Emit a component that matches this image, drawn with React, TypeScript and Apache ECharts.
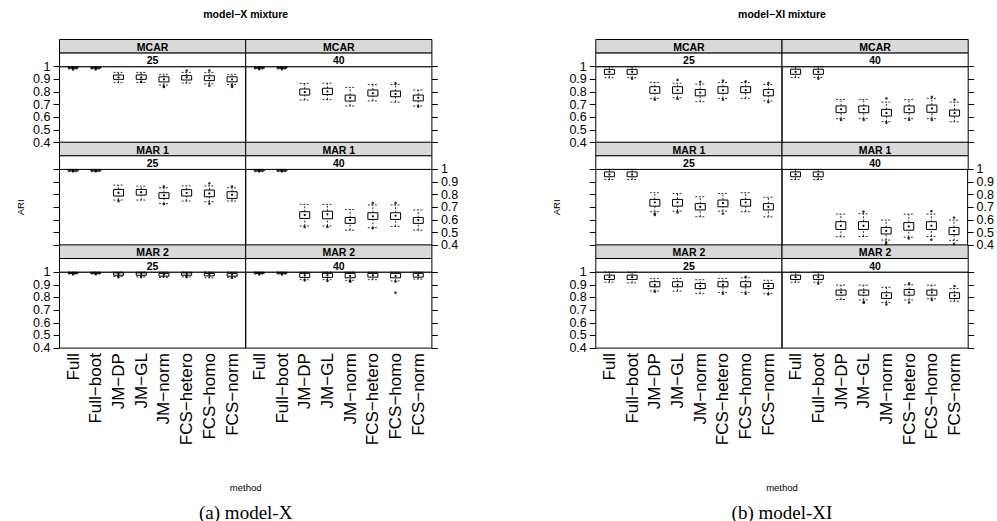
import React, { useEffect, useRef } from "react";
import * as echarts from "echarts";

const methods = ["Full", "Full−boot", "JM−DP", "JM−GL", "JM−norm", "FCS−hetero", "FCS−homo", "FCS−norm"];
const missingTypes = ["MCAR", "MAR 1", "MAR 2"];
const sampleSizes = ["25", "40"];
const figTitles = ["model−X mixture", "model−XI mixture"];
const captions = ["(a) model-X", "(b) model-XI"];
const yTicksEven = [0.4, 0.6, 0.8, 1.0];
const yTicksOdd = [0.5, 0.7, 0.9];

// box stats per method: [lower whisker, Q1, median, Q3, upper whisker]
const xMcar25 = [
  [0.982, 0.988, 0.992, 0.996, 1.0], [0.982, 0.988, 0.992, 0.996, 1.0],
  [0.874, 0.9, 0.916, 0.934, 0.955], [0.875, 0.9, 0.915, 0.935, 0.955],
  [0.855, 0.88, 0.9, 0.92, 0.94], [0.87, 0.895, 0.915, 0.93, 0.955],
  [0.865, 0.89, 0.91, 0.928, 0.955], [0.86, 0.88, 0.9, 0.92, 0.94],
];
const xMcar40 = [
  [0.982, 0.988, 0.992, 0.996, 1.0], [0.982, 0.988, 0.992, 0.996, 1.0],
  [0.737, 0.776, 0.8, 0.824, 0.868], [0.74, 0.78, 0.805, 0.83, 0.87],
  [0.69, 0.729, 0.755, 0.776, 0.837], [0.73, 0.768, 0.79, 0.816, 0.86],
  [0.72, 0.763, 0.785, 0.808, 0.86], [0.69, 0.73, 0.755, 0.776, 0.816],
];
const xMar125 = [
  [0.982, 0.988, 0.992, 0.996, 1.0], [0.982, 0.988, 0.992, 0.996, 1.0],
  [0.758, 0.79, 0.816, 0.842, 0.876], [0.758, 0.797, 0.82, 0.842, 0.868],
  [0.73, 0.771, 0.795, 0.816, 0.855], [0.75, 0.79, 0.815, 0.84, 0.87],
  [0.745, 0.784, 0.81, 0.837, 0.87], [0.75, 0.771, 0.8, 0.824, 0.855],
];
const xMar140 = [
  [0.982, 0.988, 0.992, 0.996, 1.0], [0.982, 0.988, 0.992, 0.996, 1.0],
  [0.553, 0.613, 0.64, 0.666, 0.724], [0.553, 0.61, 0.645, 0.67, 0.724],
  [0.52, 0.574, 0.6, 0.62, 0.684], [0.54, 0.605, 0.63, 0.658, 0.72],
  [0.55, 0.605, 0.635, 0.658, 0.72], [0.52, 0.574, 0.6, 0.62, 0.68],
];
const xMar225 = [
  [0.985, 0.99, 0.994, 0.997, 1.0], [0.985, 0.99, 0.994, 0.997, 1.0],
  [0.965, 0.975, 0.985, 0.994, 1.0], [0.963, 0.975, 0.985, 0.994, 1.0],
  [0.958, 0.968, 0.98, 0.99, 1.0], [0.963, 0.975, 0.985, 0.994, 1.0],
  [0.955, 0.97, 0.98, 0.99, 1.0], [0.958, 0.968, 0.98, 0.99, 1.0],
];
const xMar240 = [
  [0.985, 0.99, 0.994, 0.997, 1.0], [0.985, 0.99, 0.994, 0.997, 1.0],
  [0.94, 0.958, 0.975, 0.99, 1.0], [0.94, 0.958, 0.975, 0.99, 1.0],
  [0.935, 0.955, 0.97, 0.99, 1.0], [0.94, 0.96, 0.975, 0.99, 1.0],
  [0.93, 0.955, 0.97, 0.99, 1.0], [0.945, 0.96, 0.975, 0.99, 1.0],
];
const xiMcar25 = [
  [0.913, 0.94, 0.96, 0.979, 1.0], [0.913, 0.94, 0.96, 0.979, 1.0],
  [0.75, 0.79, 0.815, 0.842, 0.876], [0.755, 0.79, 0.815, 0.842, 0.87],
  [0.724, 0.77, 0.795, 0.82, 0.863], [0.75, 0.79, 0.815, 0.842, 0.875],
  [0.75, 0.795, 0.815, 0.842, 0.875], [0.73, 0.77, 0.795, 0.82, 0.86],
];
const xiMcar40 = [
  [0.915, 0.94, 0.96, 0.98, 1.0], [0.915, 0.94, 0.96, 0.98, 1.0],
  [0.59, 0.637, 0.665, 0.69, 0.742], [0.59, 0.637, 0.665, 0.69, 0.74],
  [0.566, 0.61, 0.635, 0.663, 0.72], [0.59, 0.637, 0.665, 0.69, 0.74],
  [0.59, 0.64, 0.67, 0.697, 0.75], [0.565, 0.61, 0.635, 0.658, 0.72],
];
const xiMar125 = [
  [0.92, 0.942, 0.96, 0.98, 1.0], [0.92, 0.942, 0.96, 0.98, 1.0],
  [0.666, 0.71, 0.74, 0.763, 0.816], [0.67, 0.71, 0.74, 0.763, 0.81],
  [0.626, 0.68, 0.705, 0.73, 0.784], [0.67, 0.705, 0.735, 0.758, 0.81],
  [0.666, 0.71, 0.74, 0.763, 0.816], [0.625, 0.68, 0.705, 0.73, 0.78],
];
const xiMar140 = [
  [0.92, 0.942, 0.96, 0.98, 1.0], [0.92, 0.942, 0.96, 0.98, 1.0],
  [0.468, 0.526, 0.555, 0.587, 0.647], [0.47, 0.526, 0.555, 0.587, 0.65],
  [0.442, 0.49, 0.515, 0.542, 0.6], [0.465, 0.52, 0.55, 0.58, 0.647],
  [0.47, 0.526, 0.555, 0.587, 0.647], [0.44, 0.485, 0.515, 0.542, 0.6],
];
const xiMar225 = [
  [0.92, 0.942, 0.96, 0.976, 1.0], [0.915, 0.942, 0.96, 0.976, 1.0],
  [0.85, 0.884, 0.9, 0.924, 0.95], [0.85, 0.884, 0.9, 0.924, 0.95],
  [0.83, 0.87, 0.89, 0.91, 0.94], [0.84, 0.884, 0.9, 0.924, 0.95],
  [0.84, 0.884, 0.9, 0.924, 0.955], [0.83, 0.87, 0.89, 0.91, 0.935],
];
const xiMar240 = [
  [0.92, 0.942, 0.96, 0.976, 1.0], [0.92, 0.942, 0.96, 0.976, 1.0],
  [0.784, 0.818, 0.84, 0.858, 0.897], [0.78, 0.818, 0.84, 0.858, 0.897],
  [0.76, 0.792, 0.815, 0.837, 0.88], [0.78, 0.818, 0.84, 0.863, 0.9],
  [0.79, 0.818, 0.84, 0.858, 0.897], [0.77, 0.792, 0.815, 0.837, 0.87],
];

// outliers: [method, value]
const xMcar25Out = [["Full", 0.978], ["Full−boot", 0.979], ["JM−GL", 0.88], ["JM−norm", 0.84], ["JM−norm", 0.845], ["FCS−hetero", 0.97], ["FCS−homo", 0.97], ["FCS−homo", 0.85], ["FCS−norm", 0.84], ["FCS−norm", 0.85]];
const xMcar40Out = [["Full", 0.98], ["Full−boot", 0.98], ["FCS−homo", 0.87], ["FCS−norm", 0.685]];
const xMar125Out = [["Full", 0.985], ["Full−boot", 0.985], ["JM−DP", 0.75], ["JM−norm", 0.865], ["JM−norm", 0.725], ["FCS−homo", 0.89], ["FCS−homo", 0.73], ["FCS−norm", 0.865]];
const xMar140Out = [["Full", 0.985], ["Full−boot", 0.985], ["JM−DP", 0.545], ["JM−GL", 0.545], ["FCS−hetero", 0.735], ["FCS−hetero", 0.535], ["FCS−homo", 0.735]];
const xMar225Out = [["Full", 0.982], ["Full−boot", 0.983], ["JM−DP", 0.96], ["JM−GL", 0.96], ["FCS−hetero", 0.96], ["FCS−norm", 0.955]];
const xMar240Out = [["Full", 0.982], ["Full−boot", 0.982], ["JM−DP", 0.935], ["JM−GL", 0.93], ["JM−norm", 0.93], ["JM−norm", 0.925], ["FCS−homo", 0.925], ["FCS−homo", 0.837]];
const xiMcar25Out = [["Full−boot", 0.905], ["JM−DP", 0.74], ["JM−GL", 0.895], ["JM−GL", 0.745], ["JM−norm", 0.88], ["FCS−hetero", 0.89], ["FCS−hetero", 0.74], ["FCS−homo", 0.885], ["FCS−norm", 0.872], ["FCS−norm", 0.72]];
const xiMcar40Out = [["Full−boot", 0.905], ["JM−DP", 0.58], ["JM−GL", 0.58], ["JM−norm", 0.75], ["JM−norm", 0.558], ["FCS−hetero", 0.58], ["FCS−homo", 0.762], ["FCS−homo", 0.58], ["FCS−norm", 0.74]];
const xiMar125Out = [["JM−DP", 0.65], ["JM−DP", 0.64], ["JM−GL", 0.66], ["FCS−hetero", 0.65]];
const xiMar140Out = [["JM−GL", 0.666], ["JM−norm", 0.425], ["JM−norm", 0.412], ["FCS−hetero", 0.455], ["FCS−homo", 0.67], ["FCS−homo", 0.445], ["FCS−norm", 0.62], ["FCS−norm", 0.412]];
const xiMar225Out = [["JM−DP", 0.845], ["FCS−hetero", 0.83], ["FCS−homo", 0.962], ["FCS−homo", 0.83], ["FCS−norm", 0.825]];
const xiMar240Out = [["Full−boot", 0.91], ["JM−GL", 0.765], ["JM−GL", 0.758], ["JM−norm", 0.745], ["FCS−hetero", 0.91], ["FCS−hetero", 0.76], ["FCS−homo", 0.78], ["FCS−norm", 0.89]];

// [figure][row][col]
const boxSets = [
  [[xMcar25, xMcar40], [xMar125, xMar140], [xMar225, xMar240]],
  [[xiMcar25, xiMcar40], [xiMar125, xiMar140], [xiMar225, xiMar240]],
];
const outSets = [
  [[xMcar25Out, xMcar40Out], [xMar125Out, xMar140Out], [xMar225Out, xMar240Out]],
  [[xiMcar25Out, xiMcar40Out], [xiMar125Out, xiMar140Out], [xiMar225Out, xiMar240Out]],
];

const FONT = "'Liberation Sans', Arial, Helvetica, sans-serif";

export default function App() {
  const ref = useRef<HTMLDivElement>(null);
  useEffect(() => {
    document.body.style.margin = "0";
    if (!ref.current) return;
    const chart = echarts.init(ref.current, null, { renderer: "svg" });

    const figX = [59.5, 595.8];
    const colW = 186.2;
    const rowTop0 = 39.5;
    const rowPitch = 102.7;
    const stripH = 13.6;
    const panelH = 76;

    const grids: any[] = [];
    const xAxes: any[] = [];
    const yAxes: any[] = [];
    const series: any[] = [];
    const graphics: any[] = [];

    let gi = 0;
    for (let f = 0; f < 2; f++) {
      for (let r = 0; r < 3; r++) {
        for (let c = 0; c < 2; c++) {
          const left = figX[f] + c * colW;
          const rowTop = rowTop0 + r * rowPitch;
          const top = rowTop + 2 * stripH;
          grids.push({
            left, top, width: colW, height: panelH,
            show: true, borderColor: "#000", borderWidth: 1, backgroundColor: "transparent",
            containLabel: false,
          });
          xAxes.push({
            gridIndex: gi, type: "value", min: 0.4, max: 8.6,
            axisLine: { show: false }, splitLine: { show: false }, axisTick: { show: false },
            axisLabel: r === 2 ? {
              show: true, customValues: [1, 2, 3, 4, 5, 6, 7, 8], rotate: 90,
              formatter: (v: number) => methods[Math.round(v) - 1] ?? "",
              fontSize: 17, color: "#000", fontFamily: FONT, margin: 5,
            } : { show: false },
          });
          const showLab = (r !== 1 && c === 0) || (r === 1 && c === 1);
          const pos = c === 0 ? "left" : "right";
          const labBase = { fontSize: 12.5, lineHeight: 12, color: "#000", fontFamily: FONT, margin: 9, hideOverlap: false };
          // main axis: ticks + even labels
          yAxes.push({
            gridIndex: gi, type: "value", min: 0.4, max: 1.0, interval: 0.1, position: pos,
            axisLine: { show: false }, splitLine: { show: false },
            axisTick: { show: true, length: 6, lineStyle: { color: "#000", width: 1 } },
            axisLabel: { ...labBase, show: showLab, customValues: yTicksEven, showMinLabel: true, showMaxLabel: true },
          });
          // companion axis: odd labels only
          yAxes.push({
            gridIndex: gi, type: "value", min: 0.4, max: 1.0, position: pos, offset: 0,
            axisLine: { show: false }, splitLine: { show: false }, axisTick: { show: false },
            axisLabel: { ...labBase, show: showLab, customValues: yTicksOdd },
          });
          const yIdx = gi * 2;
          const boxes = boxSets[f][r][c];
          series.push({
            type: "custom", xAxisIndex: gi, yAxisIndex: yIdx,
            data: boxes.map((b, i) => [i + 1, ...b]),
            encode: { x: 0, y: [1, 2, 3, 4, 5] },
            renderItem: (_p: any, api: any) => {
              const x = api.value(0);
              const half = api.size([0.44, 0])[0] / 2;
              const pLo = api.coord([x, api.value(1)]);
              const pQ1 = api.coord([x, api.value(2)]);
              const pMed = api.coord([x, api.value(3)]);
              const pQ3 = api.coord([x, api.value(4)]);
              const pHi = api.coord([x, api.value(5)]);
              const dash = { stroke: "#000", lineWidth: 0.8, lineDash: [2, 1.5], fill: null };
              return {
                type: "group",
                children: [
                  { type: "line", shape: { x1: pLo[0], y1: pLo[1], x2: pQ1[0], y2: pQ1[1] }, style: dash },
                  { type: "line", shape: { x1: pQ3[0], y1: pQ3[1], x2: pHi[0], y2: pHi[1] }, style: dash },
                  { type: "line", shape: { x1: pLo[0] - half, y1: pLo[1], x2: pLo[0] + half, y2: pLo[1] }, style: dash },
                  { type: "line", shape: { x1: pHi[0] - half, y1: pHi[1], x2: pHi[0] + half, y2: pHi[1] }, style: dash },
                  { type: "rect", shape: { x: pQ3[0] - half, y: pQ3[1], width: 2 * half, height: pQ1[1] - pQ3[1] }, style: { stroke: "#000", fill: "transparent", lineWidth: 1 } },
                  { type: "circle", shape: { cx: pMed[0], cy: pMed[1], r: 1.1 }, style: { fill: "#000" } },
                ],
              };
            },
            silent: true,
          });
          const outs = outSets[f][r][c];
          series.push({
            type: "scatter", xAxisIndex: gi, yAxisIndex: yIdx,
            data: outs.map((o: any) => [methods.indexOf(o[0]) + 1, o[1]]),
            symbol: "circle", symbolSize: 2.6, itemStyle: { color: "#000" }, silent: true,
          });

          // strips
          const strips = [
            { text: missingTypes[r], fill: "#d9d9d9", y: rowTop },
            { text: sampleSizes[c], fill: "#ffffff", y: rowTop + stripH },
          ];
          strips.forEach((s) => {
            graphics.push({
              type: "rect", shape: { x: left, y: s.y, width: colW, height: stripH },
              style: { fill: s.fill, stroke: "#000", lineWidth: 1 }, silent: true,
            });
            graphics.push({
              type: "text", x: left + colW / 2, y: s.y + stripH / 2 + 0.5,
              style: { text: s.text, fontSize: 10.5, fontWeight: "bold", fontFamily: FONT, fill: "#000", align: "center", verticalAlign: "middle" },
              silent: true,
            });
          });
          gi++;
        }
      }
      const cx = figX[f] + colW;
      graphics.push({
        type: "text", x: cx, y: 14,
        style: { text: figTitles[f], fontSize: 10.5, fontWeight: "bold", fontFamily: FONT, fill: "#000", align: "center", verticalAlign: "middle" },
      });
      graphics.push({
        type: "text", x: cx, y: 487,
        style: { text: "method", fontSize: 9.5, fontFamily: FONT, fill: "#000", align: "center", verticalAlign: "middle" },
      });
      graphics.push({
        type: "text", x: figX[f] - 39, y: rowTop0 + rowPitch + 2 * stripH + panelH / 2, rotation: Math.PI / 2,
        style: { text: "ARI", fontSize: 9.5, fontFamily: FONT, fill: "#000", align: "center", verticalAlign: "middle" },
      });
      graphics.push({
        type: "text", x: cx, y: 512,
        style: { text: captions[f], fontSize: 19, fontFamily: "'Liberation Serif', 'Times New Roman', serif", fill: "#000", align: "center", verticalAlign: "middle" },
      });
    }

    chart.setOption({
      animation: false,
      backgroundColor: "#fff",
      grid: grids,
      xAxis: xAxes,
      yAxis: yAxes,
      series,
      graphic: graphics,
    });
    return () => chart.dispose();
  }, []);
  return <div ref={ref} style={{ width: 997, height: 521 }} />;
}
